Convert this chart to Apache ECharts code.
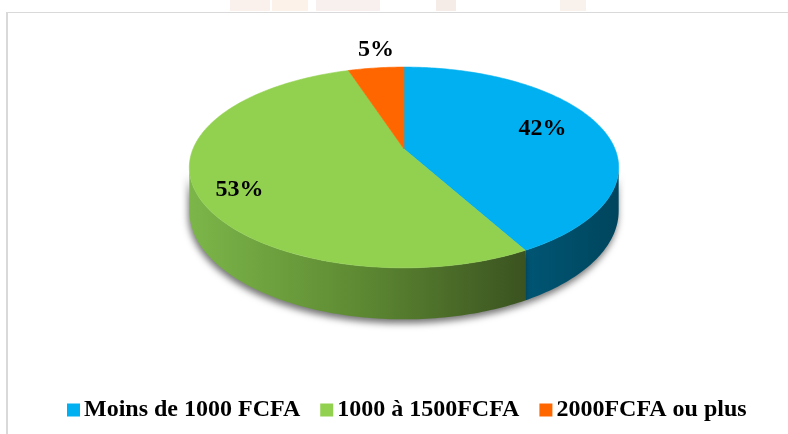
<!DOCTYPE html>
<html>
<head>
<meta charset="utf-8">
<script src="https://cdn.jsdelivr.net/npm/echarts@6/dist/echarts.min.js"></script>
<style>
  html, body { margin: 0; padding: 0; background: #fff; }
  #chart { width: 788px; height: 434px; }
</style>
</head>
<body>
<div id="chart"></div>
<script>
// data
const categories = ["Moins de 1000 FCFA", "1000 à 1500FCFA", "2000FCFA ou plus"];
const values = [42, 53, 5];

// colours
const topColors = ["#00b0f0", "#92d050", "#ff6600"];
const sideColors = [
  ["#005674", "#00455d"],
  ["#7cb649", "#5e8a33", "#3b5320"],
  ["#b34700", "#8a3700"],
];

// pseudo 3d pie geometry (perspective ellipse)
const CX = 404, CY = 149, RX = 211, RY = 97, K = 0.184, H = 42;
const total = values.reduce((a, b) => a + b, 0);
const TWO_PI = Math.PI * 2;

function proj(t, f, drop) {
  const X = f * Math.sin(t), Y = f * Math.cos(t);
  const w = 1 + K * Y;
  return [CX + (RX * X) / w, CY - (RY * Y) / w + (drop || 0) / w];
}

function arc(a, b, f, drop) {
  const n = Math.max(2, Math.ceil(Math.abs(b - a) / (Math.PI / 180)));
  const pts = [];
  for (let i = 0; i <= n; i++) {
    pts.push(proj(a + ((b - a) * i) / n, f, drop));
  }
  return pts;
}

function sliceRange(i) {
  let before = 0;
  for (let j = 0; j < i; j++) before += values[j];
  return [(before / total) * TWO_PI, ((before + values[i]) / total) * TWO_PI];
}

function gradient(stops) {
  return {
    type: "linear", x: 0, y: 0, x2: 1, y2: 0,
    colorStops: stops.map((c, k) => ({ offset: k / (stops.length - 1), color: c })),
  };
}

function renderTop(i, api) {
  const [a, b] = sliceRange(i);
  const v = api.value(0);
  const pts = [[CX, CY]].concat(arc(a, b, 1, 0));
  const mid = (a + b) / 2;
  const small = v / total < 0.1;
  let pos, vAlign;
  if (small) {
    pos = proj(mid, 1, 0);
    pos[1] -= 6;
    vAlign = "bottom";
  } else {
    // labels of slices reaching the front sit a bit lower / further out
    const f = Math.cos(mid) < -0.3 ? 0.8 : 0.7;
    pos = proj(mid, f, 0);
    pos[1] += Math.cos(mid) < -0.3 ? 8 : -4;
    vAlign = "middle";
  }
  return {
    type: "group",
    children: [
      {
        type: "polygon",
        shape: { points: pts },
        style: { fill: topColors[i], stroke: topColors[i], lineWidth: 0.6 },
      },
      {
        type: "text",
        x: pos[0],
        y: pos[1],
        z2: 10,
        style: {
          text: Math.round((v / total) * 100) + "%",
          fill: "#000",
          font: 'bold 24px "Liberation Serif"',
          align: "center",
          verticalAlign: vAlign,
        },
      },
    ],
  };
}

function renderSide(params, api) {
  const i = params.dataIndex;
  let [a, b] = sliceRange(i);
  const s1 = Math.acos(-K), s2 = TWO_PI - s1;
  a = Math.max(a, s1);
  b = Math.min(b, s2);
  if (b <= a) return { type: "group", children: [] };
  const pts = arc(a, b, 1, 0).concat(arc(b, a, 1, H));
  return {
    type: "polygon",
    shape: { points: pts },
    style: {
      fill: gradient(sideColors[i]),
      shadowColor: "rgba(0,0,0,0.55)",
      shadowBlur: 7,
      shadowOffsetX: -1,
      shadowOffsetY: 4,
    },
  };
}

const chart = echarts.init(document.getElementById("chart"));

const series = categories.map((name, i) => ({
  type: "custom",
  name: name,
  coordinateSystem: "none",
  data: [values[i]],
  z: 3,
  itemStyle: { color: topColors[i] },
  renderItem: (params, api) => renderTop(i, api),
}));

series.push({
  type: "custom",
  coordinateSystem: "none",
  data: values,
  z: 2,
  silent: true,
  renderItem: renderSide,
});

chart.setOption({
  animation: false,
  backgroundColor: "#fff",
  graphic: [
    // faint strip of the picture above the frame
    { type: "rect", shape: { x: 230, y: 0, width: 40, height: 11 }, style: { fill: "#f6e7df", opacity: 0.6 } },
    { type: "rect", shape: { x: 272, y: 0, width: 36, height: 11 }, style: { fill: "#fbeadb", opacity: 0.6 } },
    { type: "rect", shape: { x: 316, y: 0, width: 64, height: 11 }, style: { fill: "#f2e6e2", opacity: 0.6 } },
    { type: "rect", shape: { x: 436, y: 0, width: 20, height: 11 }, style: { fill: "#f0e0d7", opacity: 0.6 } },
    { type: "rect", shape: { x: 560, y: 0, width: 26, height: 11 }, style: { fill: "#f5e8e0", opacity: 0.6 } },
    // frame
    { type: "rect", shape: { x: 6, y: 12, width: 782, height: 1 }, style: { fill: "#d9d9d9" } },
    { type: "rect", shape: { x: 6, y: 12, width: 2, height: 422 }, style: { fill: "#d9d9d9" } },
  ],
  legend: {
    data: categories,
    left: 62,
    top: 393,
    icon: "rect",
    itemWidth: 13,
    itemHeight: 13,
    itemGap: 20,
    selectedMode: false,
    textStyle: {
      fontFamily: "Liberation Serif",
      fontWeight: "bold",
      fontSize: 24,
      color: "#000",
      padding: [0, 0, 0, -1],
    },
  },
  series: series,
});
</script>
</body>
</html>
